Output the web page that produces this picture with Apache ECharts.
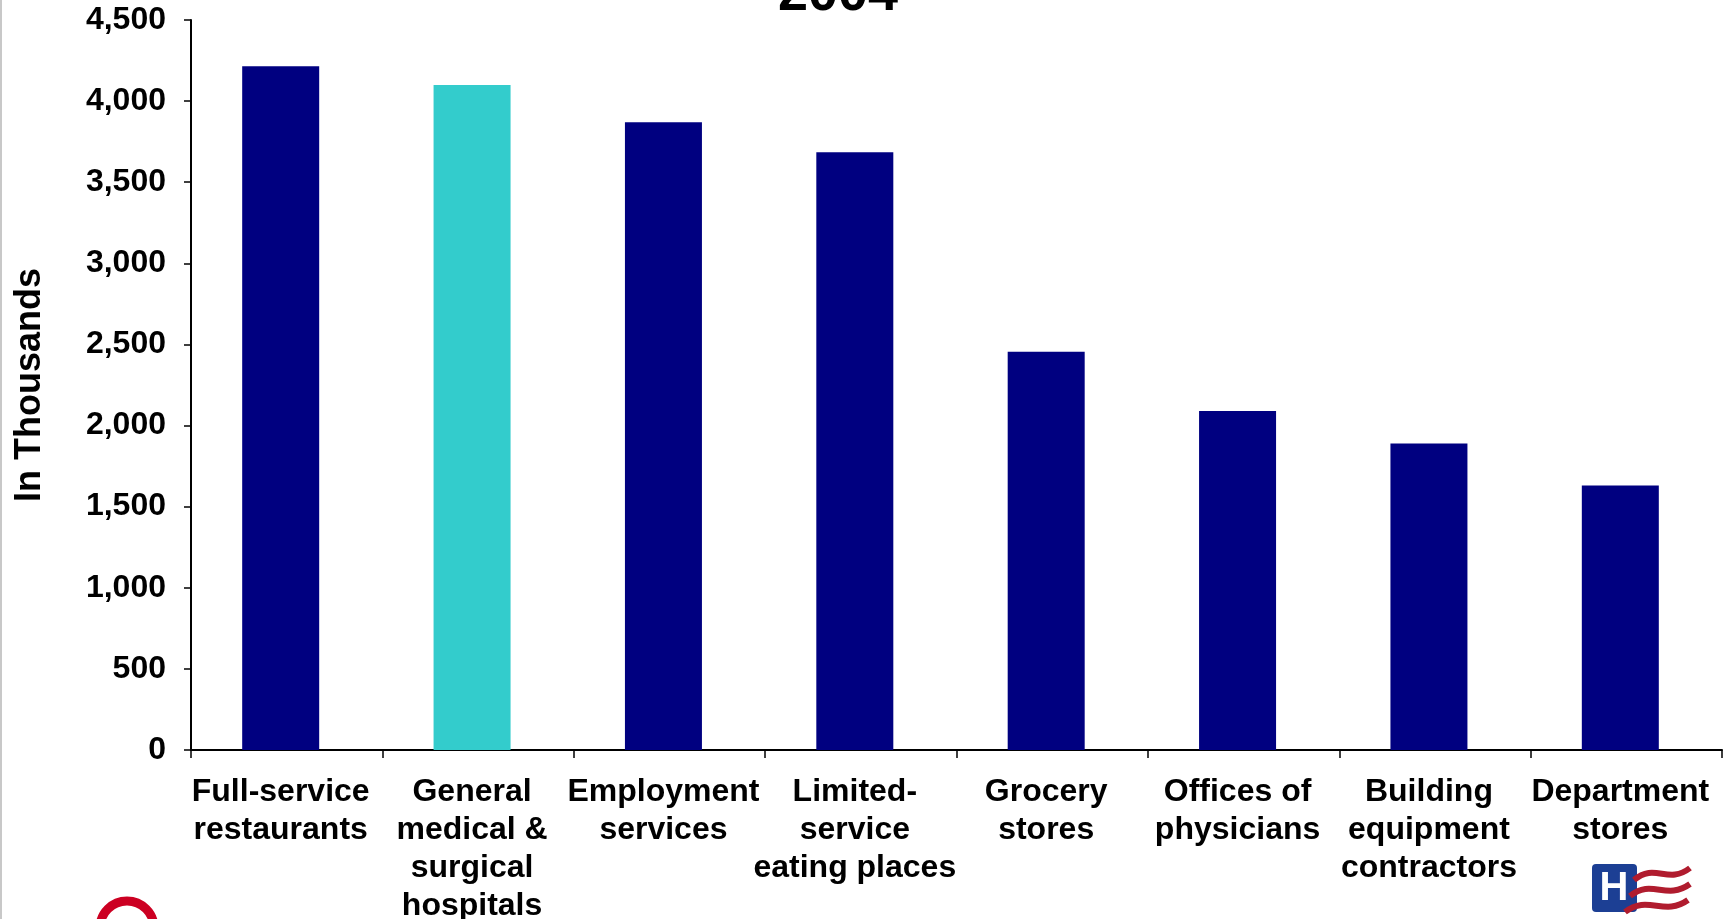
<!DOCTYPE html>
<html>
<head>
<meta charset="utf-8">
<script src="https://cdn.jsdelivr.net/npm/echarts@6/dist/echarts.min.js"></script>
<style>
html,body{margin:0;padding:0;background:#fff;}
#c{width:1729px;height:919px;}
</style>
</head>
<body>
<div id="c"></div>
<script>
const categories = [
  "Full-service\nrestaurants",
  "General\nmedical &\nsurgical\nhospitals",
  "Employment\nservices",
  "Limited-\nservice\neating places",
  "Grocery\nstores",
  "Offices of\nphysicians",
  "Building\nequipment\ncontractors",
  "Department\nstores"
];
const employment = [4215, 4100, 3870, 3685, 2455, 2090, 1890, 1630];
const yTicks = [0, 500, 1000, 1500, 2000, 2500, 3000, 3500, 4000, 4500];
const titleText = "2004";
const yName = "In Thousands";
const highlightIndex = 1;

const chart = echarts.init(document.getElementById('c'));
const FONT = '"Liberation Sans", Arial, sans-serif';
const yMin = yTicks[0], yMax = yTicks[yTicks.length - 1], yStep = yTicks[1] - yTicks[0];
chart.setOption({
  animation: false,
  backgroundColor: '#fff',
  grid: [
    { left: 191, right: 7, top: 20, bottom: 169, containLabel: false, outerBoundsMode: 'none' },
    { left: 185, right: 13, top: 20, bottom: 169, containLabel: false, outerBoundsMode: 'none' }
  ],
  xAxis: [
    {
      type: 'category', gridIndex: 0, data: categories,
      axisLine: { lineStyle: { color: '#000', width: 2 } },
      axisTick: { show: true, alignWithLabel: false, length: 8, lineStyle: { color: '#000', width: 1.5 } },
      axisLabel: { show: false }
    },
    {
      type: 'category', gridIndex: 1, data: categories,
      axisLine: { show: false }, axisTick: { show: false },
      axisLabel: {
        interval: 0, margin: 23, color: '#000', fontFamily: FONT, fontWeight: 'bold',
        fontSize: 32, lineHeight: 38
      }
    }
  ],
  yAxis: [
    {
      type: 'value', gridIndex: 0, min: yMin, max: yMax, interval: yStep,
      name: yName, nameLocation: 'middle', nameRotate: 90, nameGap: 143,
      nameTextStyle: { color: '#000', fontFamily: FONT, fontWeight: 'bold', fontSize: 36 },
      splitLine: { show: false },
      axisLine: { show: true, lineStyle: { color: '#000', width: 2 } },
      axisTick: { show: true, length: 7, lineStyle: { color: '#000', width: 1.5 } },
      axisLabel: {
        margin: 25, color: '#000', fontFamily: FONT, fontWeight: 'bold', fontSize: 32,
        formatter: v => v.toLocaleString('en-US')
      }
    },
    {
      type: 'value', gridIndex: 1, min: yMin, max: yMax, interval: yStep, show: false,
      splitLine: { show: false }
    }
  ],
  series: [{
    type: 'bar',
    xAxisIndex: 1, yAxisIndex: 1,
    data: employment,
    barWidth: 77,
    itemStyle: { color: p => p.dataIndex === highlightIndex ? '#33CCCC' : '#000080' }
  }],
  graphic: [
    { type: 'line', shape: { x1: 1, y1: 0, x2: 1, y2: 919 }, style: { stroke: '#c8c8c8', lineWidth: 2 } },
    { type: 'text', x: 838, y: 22, style: { text: titleText, font: 'bold 54px ' + FONT, fill: '#000', textAlign: 'center', textVerticalAlign: 'bottom' } },
    { type: 'circle', shape: { cx: 127, cy: 928, r: 27 }, style: { fill: 'none', stroke: '#cc0022', lineWidth: 9 } },
    { type: 'rect', shape: { x: 1592, y: 864, width: 45, height: 48, r: 4 }, style: { fill: '#1c3f94' } },
    { type: 'text', x: 1614, y: 889, style: { text: 'H', font: 'bold 40px ' + FONT, fill: '#fff', textAlign: 'center', textVerticalAlign: 'middle' } },
    { type: 'bezierCurve', shape: { x1: 1634, y1: 880, x2: 1690, y2: 868, cpx1: 1655, cpy1: 862, cpx2: 1668, cpy2: 885 }, style: { stroke: '#b01c2e', lineWidth: 6, fill: 'none' } },
    { type: 'bezierCurve', shape: { x1: 1630, y1: 896, x2: 1690, y2: 884, cpx1: 1652, cpy1: 878, cpx2: 1666, cpy2: 901 }, style: { stroke: '#b01c2e', lineWidth: 6, fill: 'none' } },
    { type: 'bezierCurve', shape: { x1: 1625, y1: 912, x2: 1688, y2: 900, cpx1: 1648, cpy1: 894, cpx2: 1664, cpy2: 917 }, style: { stroke: '#b01c2e', lineWidth: 6, fill: 'none' } }
  ]
});
</script>
</body>
</html>
